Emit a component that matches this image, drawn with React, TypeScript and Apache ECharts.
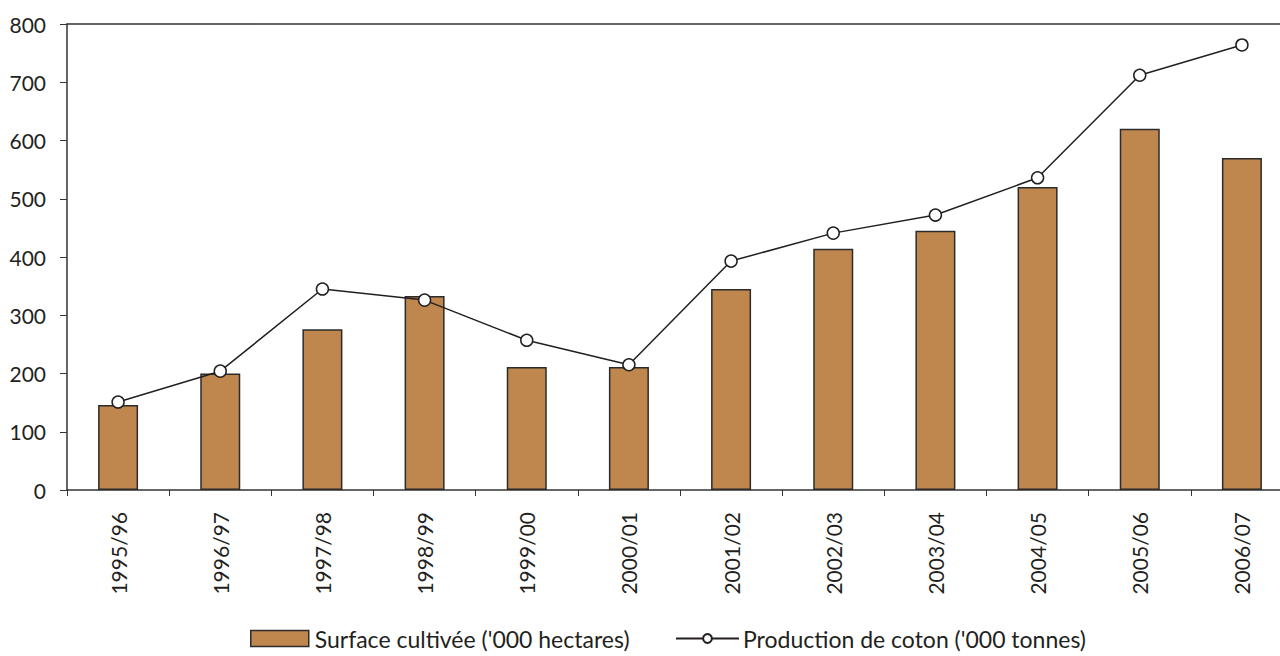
import React, { useEffect, useRef } from "react";
import * as echarts from "echarts";

const categories = ["1995/96", "1996/97", "1997/98", "1998/99", "1999/00", "2000/01", "2001/02", "2002/03", "2003/04", "2004/05", "2005/06", "2006/07"];
const surfaceValues = [146, 200, 276, 333, 211, 211, 345, 414, 445, 520, 620, 570];
const productionValues = [151, 204, 345, 326, 257, 215, 393, 441, 472, 536, 712, 764];
const surfaceName = "Surface cultivée ('000 hectares)";
const productionName = "Production de coton ('000 tonnes)";

const FONT = "Lato";

export default function App() {
  const ref = useRef<HTMLDivElement>(null);
  useEffect(() => {
    if (!ref.current) return;
    const chart = echarts.init(ref.current, null, { renderer: "svg" });
    chart.setOption({
      animation: false,
      backgroundColor: "#ffffff",
      textStyle: { fontFamily: FONT, color: "#231f20" },
      grid: { left: 67, top: 24, right: 0, bottom: 166, containLabel: false },
      legend: [
        {
          bottom: 6,
          left: 250,
          padding: 0,
          itemWidth: 58,
          itemHeight: 16,
          icon: "rect",
          textStyle: { fontFamily: FONT, fontSize: 23, color: "#231f20", padding: [0, 0, 0, 1] },
          data: [
            { name: surfaceName, itemStyle: { color: "#BF874E", borderColor: "#2b2b2b", borderWidth: 1.5 } },
          ],
        },
        {
          bottom: 6,
          left: 675,
          padding: 0,
          itemWidth: 63,
          itemHeight: 11,
          textStyle: { fontFamily: FONT, fontSize: 23, color: "#231f20", padding: [0, 0, 0, -1] },
          data: [{ name: productionName }],
        },
      ],
      xAxis: [
        {
          type: "category",
          data: categories,
          position: "bottom",
          axisLine: { show: true, lineStyle: { color: "#333333", width: 1.5 } },
          axisTick: { show: true, length: 6, lineStyle: { color: "#333333", width: 1 } },
          axisLabel: { rotate: 90, fontSize: 21, color: "#231f20", fontFamily: FONT, margin: 22 },
        },
        {
          type: "category",
          data: categories,
          position: "top",
          axisLine: { show: true, lineStyle: { color: "#333333", width: 1.5 } },
          axisTick: { show: false },
          axisLabel: { show: false },
        },
      ],
      yAxis: {
        type: "value",
        min: 0,
        max: 800,
        interval: 100,
        axisLine: { show: true, lineStyle: { color: "#333333", width: 1.5 } },
        axisTick: { show: true, length: 7, lineStyle: { color: "#333333" } },
        splitLine: { show: false },
        axisLabel: { fontSize: 21, color: "#231f20", fontFamily: FONT, margin: 21 },
      },
      series: [
        {
          name: surfaceName,
          type: "bar",
          data: surfaceValues,
          barWidth: 40,
          itemStyle: { color: "#BF874E", borderColor: "#2b2b2b", borderWidth: 1.5 },
        },
        {
          name: productionName,
          type: "line",
          data: productionValues,
          symbol: "circle",
          symbolSize: 12,
          lineStyle: { color: "#231f20", width: 1.5 },
          itemStyle: { color: "#ffffff", borderColor: "#231f20", borderWidth: 1.5 },
        },
      ],
    });
    return () => chart.dispose();
  }, []);
  return (
    <div style={{ position: "fixed", left: 0, top: 0, width: 1280, height: 656, background: "#fff", overflow: "hidden" }}>
      <div ref={ref} style={{ width: 1293, height: 656 }} />
    </div>
  );
}
